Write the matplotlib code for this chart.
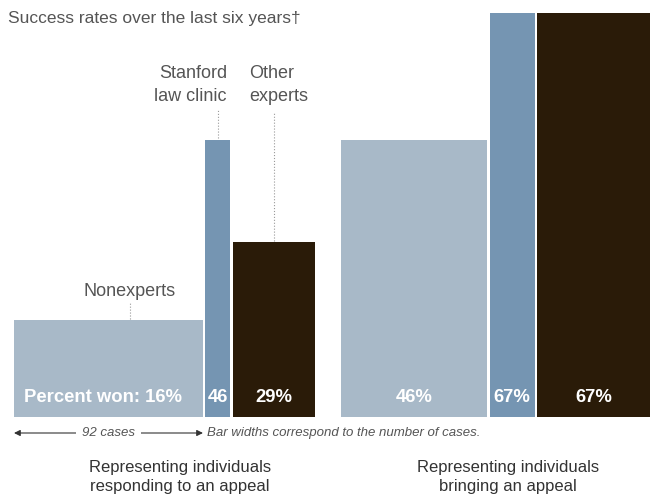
import matplotlib.pyplot as plt

plt.rcParams['font.family'] = ['Liberation Sans', 'DejaVu Sans']

groups = ['Representing individuals\nresponding to an appeal',
          'Representing individuals\nbringing an appeal']
categories = ['Nonexperts', 'Stanford law clinic', 'Other experts']
cases = [[92, 12, 40], [71, 22, 55]]
pct = [[16, 46, 29], [46, 67, 67]]
value_labels = [['Percent won: 16%', '46', '29%'], ['46%', '67%', '67%']]
colors = ['#a8b9c8', '#7595b2', '#2a1b08']

gap = 1.2
group_gap = 13.0

fig = plt.figure(figsize=(6.51, 4.97), dpi=100)
ax = fig.add_axes([0, 0, 1, 1])
px = 2.054  # pixels per case
ppy = 6.02  # pixels per percent
base = 416.5
ax.set_xlim(-14 / px, (651 - 14) / px)
ax.set_ylim(-(497 - base) / ppy, base / ppy)
ax.axis('off')


def X(p):
    return (p - 14) / px


def Y(p):
    return (base - p) / ppy


x = 0.0
lefts = []
for g in range(2):
    row = []
    for i in range(3):
        w = cases[g][i]
        ax.bar(x, pct[g][i], width=w, align='edge', color=colors[i], linewidth=0)
        row.append(x)
        x += w + gap
    lefts.append(row)
    x += group_gap - gap

# value labels inside bars
for g in range(2):
    for i in range(3):
        lx = lefts[g][i]
        w = cases[g][i]
        if g == 0 and i == 0:
            ax.text(lx + 5, Y(398), value_labels[g][i], color='white', fontsize=13.3,
                    fontweight='bold', ha='left', va='center')
        else:
            ax.text(lx + w / 2, Y(398), value_labels[g][i], color='white', fontsize=13.3,
                    fontweight='bold', ha='center', va='center')

grey = '#555555'
ax.text(X(8), Y(18), 'Success rates over the last six years\u2020',
        fontsize=12.5, color=grey, ha='left', va='center')

# category labels with dotted leaders
l0 = lefts[0]
cx = X(130)
ax.text(cx, Y(291), 'Nonexperts', fontsize=13, color=grey, ha='center', va='center')
ax.plot([cx, cx], [pct[0][0] + 0.2, Y(303)], color='#999999', lw=0.8, ls=':')

sx = l0[1] + cases[0][1] / 2
ax.text(X(227), Y(85), 'Stanford\nlaw clinic', fontsize=13,
        color=grey, ha='right', va='center', linespacing=1.45)
ax.plot([sx, sx], [pct[0][1] + 0.2, Y(110)], color='#999999', lw=0.8, ls=':')

ox = l0[2] + cases[0][2] / 2
ax.text(X(249), Y(85), 'Other\nexperts', fontsize=13,
        color=grey, ha='left', va='center', linespacing=1.45)
ax.plot([ox, ox], [pct[0][2] + 0.2, Y(112)], color='#999999', lw=0.8, ls=':')

# width scale arrow
ay = Y(433)
ax.annotate('', xy=(0, ay), xytext=(cases[0][0], ay),
            arrowprops=dict(arrowstyle='<|-|>', color='#333333', lw=0.8,
                            mutation_scale=9, shrinkA=0, shrinkB=0))
ax.text(cases[0][0] / 2, ay, f'{cases[0][0]} cases', fontsize=9.5, style='italic',
        color=grey, ha='center', va='center',
        bbox=dict(facecolor='white', edgecolor='none', pad=4))
ax.text(cases[0][0] + 2, ay, 'Bar widths correspond to the number of cases.', fontsize=9.5,
        style='italic', color=grey, ha='left', va='center')

# group labels
centers = [X(180), X(508)]
for g in range(2):
    ax.text(centers[g], Y(477), groups[g], fontsize=12, color='#333333',
            ha='center', va='center', linespacing=1.35)

fig.savefig('out.png', dpi=100)
